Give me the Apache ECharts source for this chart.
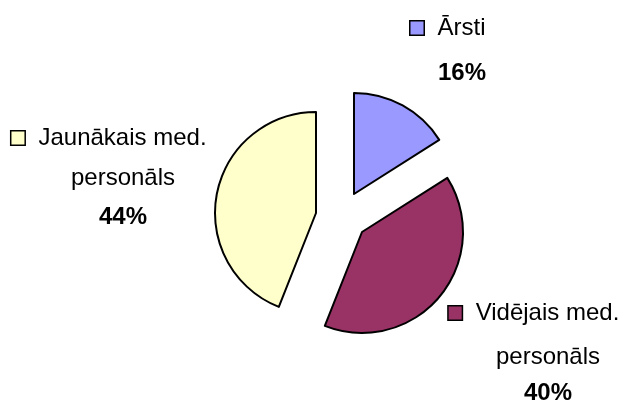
<!DOCTYPE html>
<html>
<head>
<meta charset="utf-8">
<script src="https://cdn.jsdelivr.net/npm/echarts@6/dist/echarts.min.js"></script>
<style>
  html, body { margin: 0; padding: 0; background: #fff; }
  #chart { width: 624px; height: 408px; }
</style>
</head>
<body>
<div id="chart"></div>
<script>
// data
const categories = ['Ārsti', 'Vidējais med.\npersonāls', 'Jaunākais med.\npersonāls']
const shares = [16, 40, 44]
const colors = ['#9999FF', '#993366', '#FFFFCC']

// layout: centre of each pulled-out slice, and its label block (text centre x, top y)
const sliceCenters = [[354, 194], [362, 232], [316, 213]]
const labelPos = [[462, 3], [548, 291], [123, 118]]
const lineHeights = [[50, 40], [44, 28], [40, 38]]

const chart = echarts.init(document.getElementById('chart'))

// one pie per slice so each slice can be pulled out on its own
const series = categories.map((cat, i) => {
  const rich = {
    t: { fontFamily: 'Liberation Sans', fontSize: 24, color: '#000', lineHeight: lineHeights[i][0] },
    b: { fontFamily: 'Liberation Sans', fontSize: 24, fontWeight: 'bold', color: '#000', lineHeight: lineHeights[i][1] },
    sq: { width: 13, height: 13, backgroundColor: colors[i], borderColor: '#000', borderWidth: 1.5 },
    gap: { width: 14 },
    pad: { width: 28 }
  }
  return {
    type: 'pie',
    center: sliceCenters[i],
    radius: 101,
    startAngle: 90,
    emphasis: { disabled: true },
    labelLine: { show: false },
    label: {
      position: 'outside',
      align: 'center',
      overflow: 'none',
      rich,
      formatter: p => {
        const lines = p.name.split('\n')
        let s = '{sq|}{gap|}{t|' + lines[0] + '}{pad|}'
        for (let k = 1; k < lines.length; k++) s += '\n{t|' + lines[k] + '}'
        return s + '\n{b|' + p.value + '%}'
      }
    },
    labelLayout: p => ({
      x: labelPos[p.dataIndex][0],
      y: labelPos[p.dataIndex][1],
      align: 'center',
      verticalAlign: 'top'
    }),
    data: categories.map((name, j) => ({
      name,
      value: shares[j],
      itemStyle: j === i
        ? { color: colors[j], borderColor: '#000', borderWidth: 2 }
        : { color: 'transparent', borderWidth: 0 },
      label: { show: j === i }
    }))
  }
})

chart.setOption({ animation: false, series })
</script>
</body>
</html>
